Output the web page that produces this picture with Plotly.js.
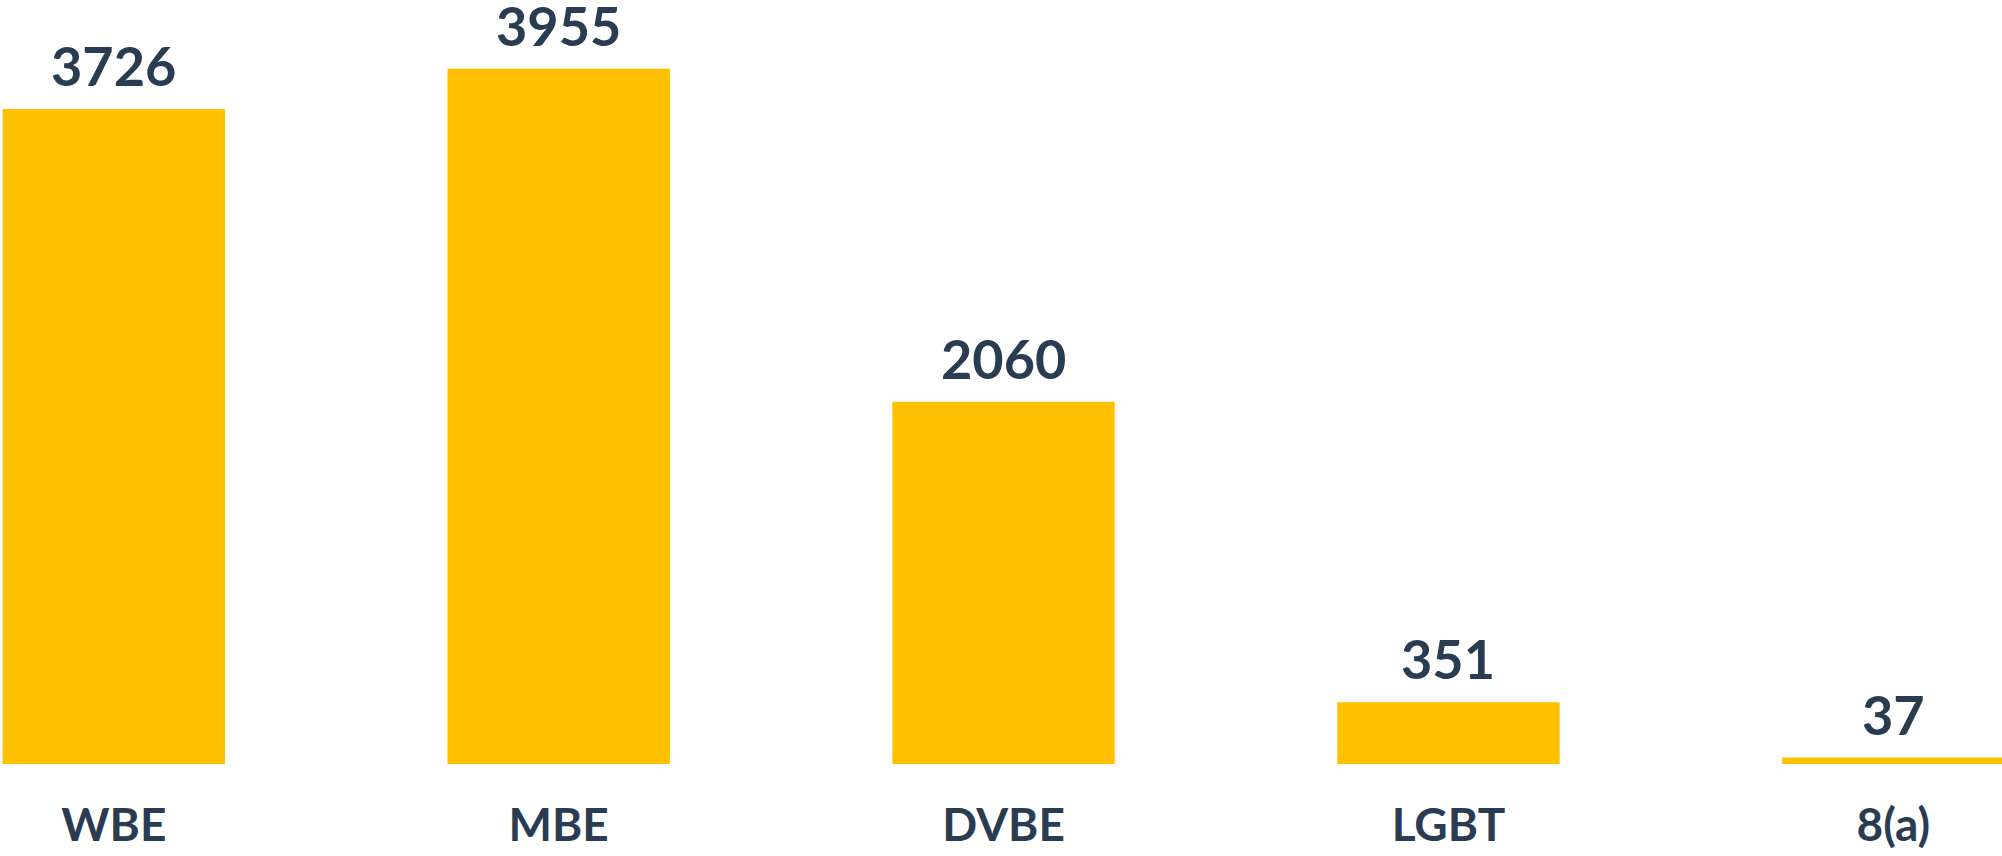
<!DOCTYPE html>
<html>
<head>
<meta charset="utf-8">
<script src="https://cdn.plot.ly/plotly-3.0.1.min.js"></script>
<style>html,body{margin:0;padding:0;background:#fff;}#chart{width:2002px;height:856px;}</style>
</head>
<body>
<div id="chart"></div>
<script>
const categories = ["WBE", "MBE", "DVBE", "LGBT", "8(a)"];
const values = [3726, 3955, 2060, 351, 37];
const valueLabels = ["3726", "3955", "2060", "351", "37"];

const barColor = "#FFC000";
const textColor = "#293C51";
const fontFamily = "Lato, 'Open Sans', sans-serif";

const trace = {
  type: "bar",
  x: categories,
  y: values,
  marker: {color: barColor},
  hoverinfo: "none"
};

const annotations = categories.map((c, i) => ({
  x: c,
  y: values[i],
  xref: "x",
  yref: "y",
  text: "<b>" + valueLabels[i] + "</b>",
  showarrow: false,
  yanchor: "bottom",
  yshift: 9,
  font: {family: fontFamily, size: 54, color: textColor}
}));

const layout = {
  width: 2002,
  height: 856,
  margin: {l: 0, r: 0, t: 0, b: 92, pad: 0},
  paper_bgcolor: "#ffffff",
  plot_bgcolor: "#ffffff",
  bargap: 0.5,
  showlegend: false,
  xaxis: {
    type: "category",
    range: [-0.2558, 4.2442],
    showgrid: false,
    zeroline: false,
    showline: false,
    ticks: "",
    tickfont: {family: fontFamily, size: 46, color: textColor, weight: "bold"},
    ticklabelstandoff: 30
  },
  yaxis: {
    range: [0, 4346],
    visible: false,
    showgrid: false,
    zeroline: false
  },
  annotations: annotations
};

Plotly.newPlot("chart", [trace], layout, {displayModeBar: false, staticPlot: true});
</script>
</body>
</html>
